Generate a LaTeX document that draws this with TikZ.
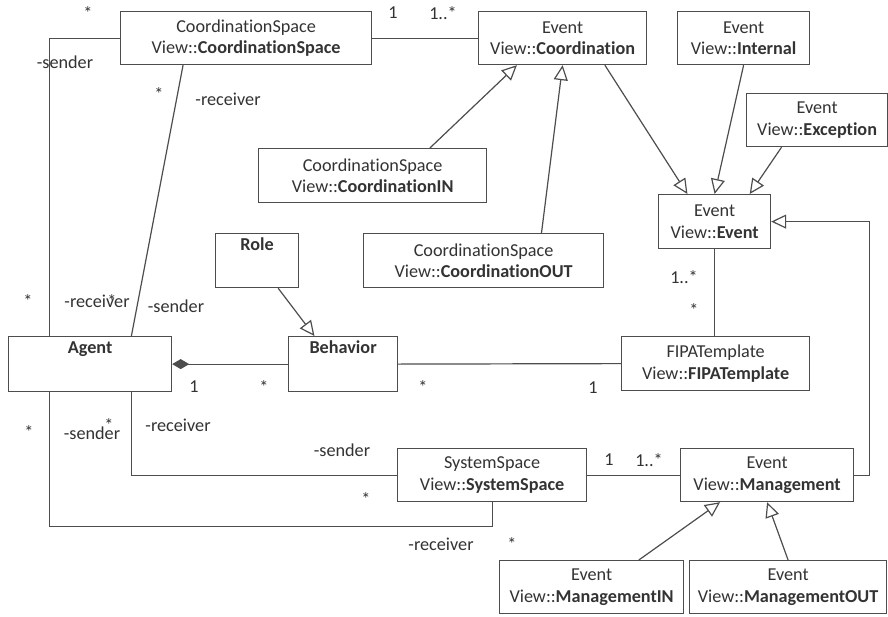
\documentclass[tikz,border=0pt]{standalone}
\usepackage{fontspec}
\setmainfont{Carlito}[Ligatures={NoCommon}]
\usetikzlibrary{arrows.meta,calc}
\definecolor{txt}{HTML}{333333}
\definecolor{lin}{HTML}{4D4D4D}
\begin{document}
\begin{tikzpicture}[x=1pt,y=1pt,
  font=\fontsize{18.2}{21.5}\selectfont,
  box/.style={draw=lin, line width=1.2pt, inner sep=0pt, align=center, text=txt, anchor=north west},
  toplabel/.style={label={[anchor=north, inner sep=0pt, yshift=-5pt, text=txt]north:{\bfseries #1}}},
  conn/.style={draw=lin, line width=1.2pt},
  gen/.style={conn, -{Triangle[open, length=15pt, width=14pt]}},
  mult/.style={text=txt, inner sep=0pt},
]
\useasboundingbox (0,0) rectangle (888,-616);
\fill[white] (0,0) rectangle (888,-616);

% classes
\node[box, minimum width=251, minimum height=53] (cs) at (120,-11) {CoordinationSpace\\View::\textbf{CoordinationSpace}};
\node[box, minimum width=168, minimum height=53] (coord) at (478,-11) {Event\\View::\textbf{Coordination}};
\node[box, minimum width=132, minimum height=53] (int) at (677,-11) {Event\\View::\textbf{Internal}};
\node[box, minimum width=141, minimum height=53] (exc) at (746,-93) {Event\\View::\textbf{Exception}};
\node[box, minimum width=112, minimum height=54] (ev) at (658,-194) {Event\\View::\textbf{Event}};
\node[box, minimum width=228, minimum height=54] (cin) at (258,-148) {CoordinationSpace\\View::\textbf{CoordinationIN}};
\node[box, minimum width=240, minimum height=54] (cout) at (363,-233) {CoordinationSpace\\View::\textbf{CoordinationOUT}};
\node[box, minimum width=83, minimum height=54, toplabel=Role] (role) at (215,-233) {};
\node[box, minimum width=163, minimum height=55, toplabel=Agent] (agent) at (8,-336) {};
\node[box, minimum width=109, minimum height=55, toplabel=Behavior] (beh) at (288,-336) {};
\node[box, minimum width=188, minimum height=54] (fipa) at (621,-336) {FIPATemplate\\View::\textbf{FIPATemplate}};
\node[box, minimum width=189, minimum height=53] (ss) at (397,-448) {SystemSpace\\View::\textbf{SystemSpace}};
\node[box, minimum width=173, minimum height=53] (mg) at (680,-448) {Event\\View::\textbf{Management}};
\node[box, minimum width=184, minimum height=53] (min) at (499,-560) {Event\\View::\textbf{ManagementIN}};
\node[box, minimum width=197, minimum height=53] (mout) at (689,-560) {Event\\View::\textbf{ManagementOUT}};

% associations
\draw[conn] (cs.east) -- (coord.west);
\draw[conn] (cs.west) -| ($(agent.north west)!0.2546!(agent.north east)$);
\draw[conn] ($(cs.south west)!0.25!(cs.south east)$) -- ($(agent.north west)!0.7515!(agent.north east)$);
\draw[conn, {Diamond[length=17pt,width=10pt]}-] (agent.east) -- (beh.west);
\draw[conn] (beh.east) -- (fipa.west);
\draw[conn] (ev.south) -- (ev.south |- fipa.north);
\draw[conn] (ss.east) -- (mg.west);
\draw[conn] ($(agent.south west)!0.7515!(agent.south east)$) |- (ss.west);
\draw[conn] ($(agent.south west)!0.2546!(agent.south east)$) |- ($(ss.south)+(0,-24)$) -- (ss.south);

% generalizations
\draw[gen] ($(role.south west)!0.75!(role.south east)$) -- ($(beh.north west)!0.24!(beh.north east)$);
\draw[gen] ($(coord.south west)!0.75!(coord.south east)$) -- ($(ev.north west)!0.26!(ev.north east)$);
\draw[gen] (int.south) -- (ev.north);
\draw[gen] ($(exc.south west)!0.25!(exc.south east)$) -- ($(ev.north west)!0.81!(ev.north east)$);
\draw[gen] ($(cin.north west)!0.75!(cin.north east)$) -- ($(coord.south west)!0.23!(coord.south east)$);
\draw[gen] ($(cout.north west)!0.74!(cout.north east)$) -- (coord.south);
\draw[gen] (mg.east) -- ++(15,0) |- (ev.east);
\draw[gen] ($(min.north west)!0.755!(min.north east)$) -- ($(mg.south west)!0.23!(mg.south east)$);
\draw[gen] (mout.north) -- (mg.south);

% multiplicities and roles
\node[mult] at (88,-13) {*};
\node[mult] at (65,-62) {-sender};
\node[mult] at (159,-94) {*};
\node[mult] at (228,-99) {-receiver};
\node[mult] at (393,-13) {1};
\node[mult] at (443,-13) {1..*};
\node[mult] at (28,-301) {*};
\node[mult] at (97,-301) {-receiver};
\node[mult] at (112,-301) {*};
\node[mult] at (176,-306) {-sender};
\node[mult] at (194,-387) {1};
\node[mult] at (264,-387) {*};
\node[mult] at (423,-387) {*};
\node[mult] at (593,-388) {1};
\node[mult] at (684,-277) {1..*};
\node[mult] at (694,-310) {*};
\node[mult] at (29,-432) {*};
\node[mult] at (92,-433) {-sender};
\node[mult] at (109,-425) {*};
\node[mult] at (178,-425) {-receiver};
\node[mult] at (342,-450) {-sender};
\node[mult] at (366,-499) {*};
\node[mult] at (441,-544) {-receiver};
\node[mult] at (512,-544) {*};
\node[mult] at (609,-460) {1};
\node[mult] at (649,-460) {1..*};
\end{tikzpicture}
\end{document}
